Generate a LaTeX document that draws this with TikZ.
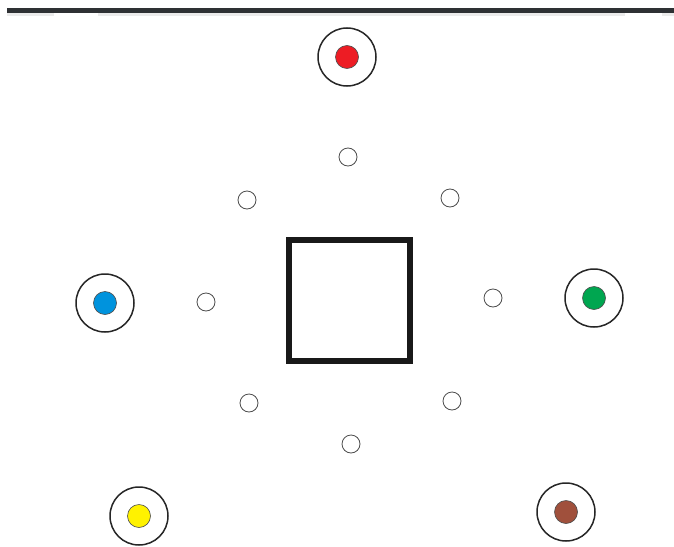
\documentclass[tikz,border=0pt]{standalone}
\definecolor{cred}{HTML}{ED1C24}
\definecolor{cblue}{HTML}{0093DD}
\definecolor{cgreen}{HTML}{00A650}
\definecolor{cyellow}{HTML}{FFF200}
\definecolor{cbrown}{HTML}{A0503C}
\definecolor{cdark}{HTML}{2E3134}
\begin{document}
\begin{tikzpicture}[x=1pt,y=-1pt,
  outer/.style={circle,draw=black!85,line width=1.5pt,minimum size=58pt,inner sep=0pt},
  inner/.style={circle,draw=black!70,line width=0.6pt,minimum size=23pt,inner sep=0pt},
  small/.style={circle,draw=black!70,line width=0.8pt,minimum size=18pt,inner sep=0pt,fill=white}]
\useasboundingbox (0,0) rectangle (674,546);
\fill[white] (0,0) rectangle (674,546);
% top bar
\fill[black!8] (7,13) rectangle (54,16);
\fill[black!8] (98,13) rectangle (625,16);
\fill[black!8] (662,13) rectangle (674,16);
\fill[cdark] (7,8) rectangle (674,13);
% square
\node[draw=black!90,line width=6pt,minimum width=121pt,minimum height=121pt,inner sep=0pt] (sq) at (349.5,300.5) {};
% big circles
\node[outer] (r) at (347,57) {};
\node[inner,fill=cred] (ri) at (347,57) {};
\node[outer] (b) at (105,303) {};
\node[inner,fill=cblue] (bi) at (105,303) {};
\node[outer] (g) at (594,298) {};
\node[inner,fill=cgreen] (gi) at (594,298) {};
\node[outer] (y) at (139,516) {};
\node[inner,fill=cyellow] (yi) at (139,516) {};
\node[outer] (br) at (566,512) {};
\node[inner,fill=cbrown] (bri) at (566,512) {};
% small circles
\node[small] (s1) at (348,157) {};
\node[small] (s2) at (247,200) {};
\node[small] (s3) at (450,198) {};
\node[small] (s4) at (206,302) {};
\node[small] (s5) at (493,298) {};
\node[small] (s6) at (249,403) {};
\node[small] (s7) at (452,401) {};
\node[small] (s8) at (351,444) {};
\end{tikzpicture}
\end{document}
